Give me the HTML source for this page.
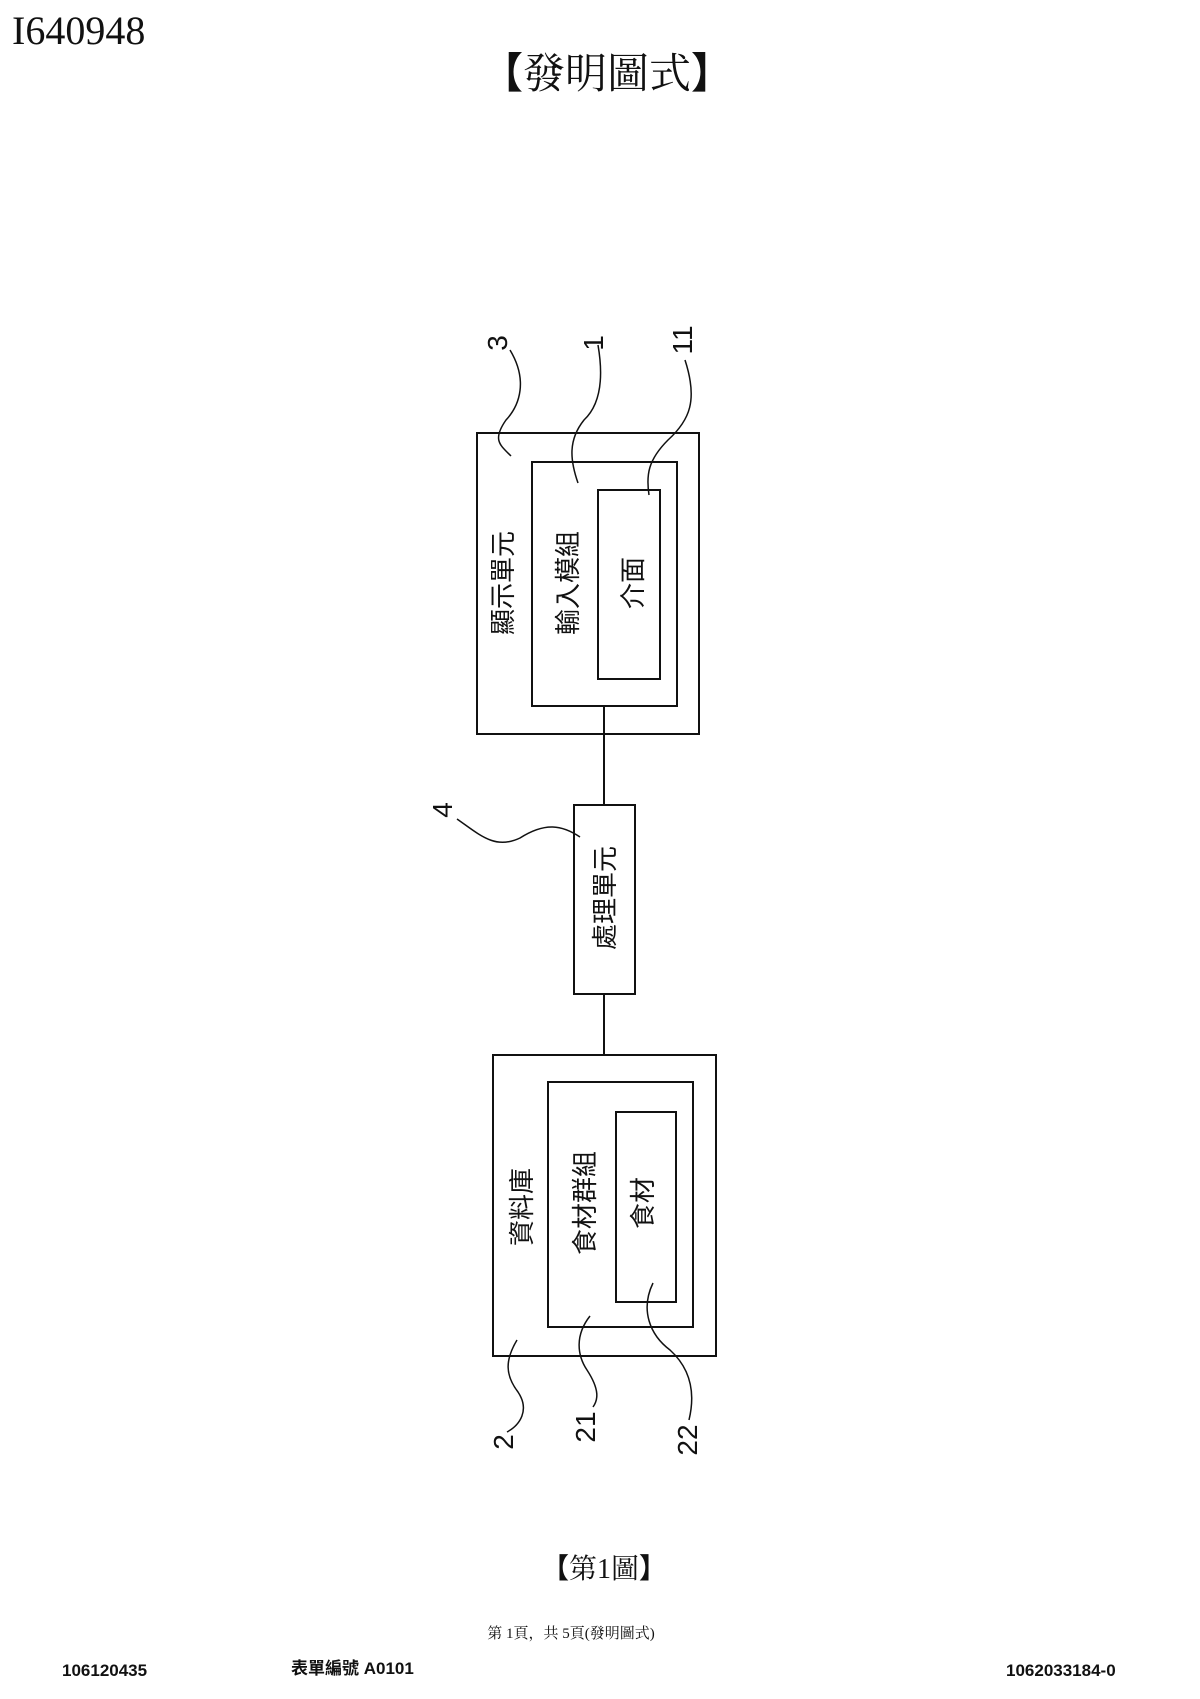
<!DOCTYPE html>
<html><head><meta charset="utf-8"><style>
body{margin:0;background:#fff;width:1200px;height:1699px;overflow:hidden}
svg{position:absolute;left:0;top:0}
text{font-family:"Liberation Sans","Noto Sans CJK TC",sans-serif;fill:#111}
.br{font-family:"Noto Sans CJK TC",sans-serif;font-weight:bold}
</style></head><body>
<svg width="1200" height="1699" viewBox="0 0 1200 1699">
<text x="12" y="44" style="font-family:'Liberation Serif',serif" font-size="40">I640948</text>
<text x="607" y="88" text-anchor="middle" font-size="42" style="font-family:'Liberation Serif','Noto Serif CJK SC',serif"><tspan class="br">【</tspan>發明圖式<tspan class="br">】</tspan></text>
<g fill="none" stroke="#111" stroke-width="2">
<rect x="477" y="433" width="222" height="301"/>
<rect x="532" y="462" width="145" height="244"/>
<rect x="598" y="490" width="62" height="189"/>
<line x1="604" y1="706" x2="604" y2="805"/>
<rect x="574" y="805" width="61" height="189"/>
<line x1="604" y1="994" x2="604" y2="1055"/>
<rect x="493" y="1055" width="223" height="301"/>
<rect x="548" y="1082" width="145" height="245"/>
<rect x="616" y="1112" width="60" height="190"/>
<path d="M510,350 C528,380 520,405 506,420 C492,440 500,445 511,456" stroke-width="1.5"/>
<path d="M598,345 C604,380 600,405 584,420 C568,440 570,460 578,483" stroke-width="1.5"/>
<path d="M685,360 C698,400 690,420 668,440 C648,460 646,475 649,495" stroke-width="1.5"/>
<path d="M457,819 C480,835 495,850 520,838 C545,822 562,825 580,837" stroke-width="1.5"/>
<path d="M517,1340 C505,1360 505,1375 518,1392 C530,1410 520,1425 507,1432" stroke-width="1.5"/>
<path d="M590,1316 C575,1335 577,1355 587,1370 C600,1390 598,1400 593,1407" stroke-width="1.5"/>
<path d="M653,1283 C640,1310 650,1335 670,1350 C692,1370 695,1395 689,1420" stroke-width="1.5"/>
</g>
<g font-size="26">
<text transform="translate(512,583) rotate(-90)" text-anchor="middle">顯示單元</text>
<text transform="translate(577,583) rotate(-90)" text-anchor="middle">輸入模組</text>
<text transform="translate(642,583) rotate(-90)" text-anchor="middle">介面</text>
<text transform="translate(614,898) rotate(-90)" text-anchor="middle">處理單元</text>
<text transform="translate(531,1207) rotate(-90)" text-anchor="middle">資料庫</text>
<text transform="translate(594,1203) rotate(-90)" text-anchor="middle">食材群組</text>
<text transform="translate(652,1203) rotate(-90)" text-anchor="middle">食材</text>
</g>
<g font-size="28">
<text transform="translate(507,343) rotate(-90)" text-anchor="middle">3</text>
<text transform="translate(603,343) rotate(-90)" text-anchor="middle">1</text>
<text transform="translate(692,340) rotate(-90)" text-anchor="middle">11</text>
<text transform="translate(452,810) rotate(-90)" text-anchor="middle">4</text>
<text transform="translate(513,1442) rotate(-90)" text-anchor="middle">2</text>
<text transform="translate(595,1427) rotate(-90)" text-anchor="middle">21</text>
<text transform="translate(697,1440) rotate(-90)" text-anchor="middle">22</text>
</g>
<text x="604" y="1578" text-anchor="middle" font-size="28" style="font-family:'Liberation Serif','Noto Serif CJK SC',serif"><tspan class="br">【</tspan>第1圖<tspan class="br">】</tspan></text>
<text x="571" y="1638" text-anchor="middle" font-size="15" style="font-family:'Liberation Serif','Noto Serif CJK SC',serif">第 1頁，共 5頁(發明圖式)</text>
<g font-size="17" font-weight="bold">
<text x="62" y="1676">106120435</text>
<text x="291" y="1674">表單編號 A0101</text>
<text x="1006" y="1676">1062033184-0</text>
</g>
</svg>
</body></html>
